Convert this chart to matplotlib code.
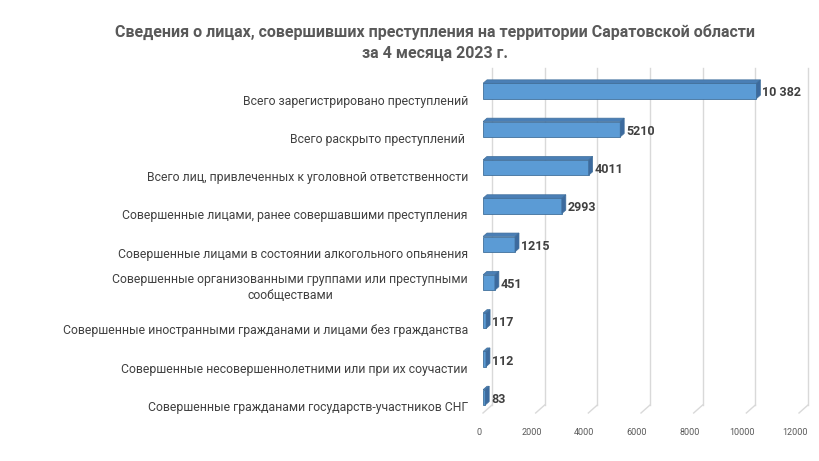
import matplotlib
matplotlib.use("Agg")
import matplotlib.pyplot as plt
import matplotlib.transforms as mtransforms
from matplotlib.patches import Polygon

categories = [
    "Всего зарегистрировано преступлений",
    "Всего раскрыто преступлений ",
    "Всего лиц, привлеченных к уголовной ответственности",
    "Совершенные лицами, ранее совершавшими преступления",
    "Совершенные лицами в состоянии алкогольного опьянения",
    "Совершенные организованными группами или преступными\nсообществами",
    "Совершенные иностранными гражданами и лицами без гражданства",
    "Совершенные несовершеннолетними или при их соучастии",
    "Совершенные гражданами государств-участников СНГ",
]
values = [10382, 5210, 4011, 2993, 1215, 451, 117, 112, 83]
xticks = [0, 2000, 4000, 6000, 8000, 10000, 12000]
title = "Сведения о лицах, совершивших преступления на территории Саратовской области\nза 4 месяца 2023 г."

FONT = ["Roboto", "DejaVu Sans"]
plt.rcParams["font.family"] = FONT

W, H, DPI = 820, 461, 100
fig = plt.figure(figsize=(W / DPI, H / DPI), dpi=DPI)
fig.patch.set_facecolor("white")

# axes placement (pixels)
x0p, x1p = 483, 799
ytop, ybot = 65, 415
ax = fig.add_axes([x0p / W, 1 - ybot / H, (x1p - x0p) / W, (ybot - ytop) / H])
ax.set_xlim(0, 12000)
n = len(categories)
row0, rowstep = 91, 38.3
ax.set_ylim((ybot - row0) / rowstep, (ytop - row0) / rowstep)

px_per_unit_x = (x1p - x0p) / 12000.0
px_per_unit_y = rowstep

# back-plane gridlines shifted right, with floor diagonals
grid_color = "#d9d9d9"
blend = mtransforms.blended_transform_factory(ax.transData, ax.transAxes)
back = blend + mtransforms.ScaledTranslation(9 / DPI, 0, fig.dpi_scale_trans)
yb_axes = (ybot - 405) / (ybot - ytop)
yt_axes = (ybot - 68) / (ybot - ytop)
for t in xticks:
    ax.plot([t, t], [yb_axes, yt_axes], color=grid_color, lw=1.0, transform=back,
            clip_on=False, zorder=0)
fig.canvas.draw()
for t in xticks:
    xp = ax.transData.transform((t, 0))[0]
    fig.add_artist(plt.Line2D([(xp + 9) / W, xp / W], [1 - 405 / H, 1 - 413 / H],
                              color=grid_color, lw=1.0, transform=fig.transFigure, zorder=0))

# 3D bars
bar_h = 0.40
depth_x = 4 / px_per_unit_x
depth_y = 3.5 / px_per_unit_y
front_c = "#5b9bd5"
top_c = "#4a7fb6"
side_c = "#3c6a9e"
edge_c = "#41709c"
for i, v in enumerate(values):
    yc = i
    ytop_b = yc - bar_h / 2
    ybot_b = yc + bar_h / 2
    ax.barh(yc, v, height=bar_h, color=front_c, edgecolor=edge_c, linewidth=0.6, zorder=3)
    top = Polygon([(0, ytop_b), (v, ytop_b), (v + depth_x, ytop_b - depth_y),
                   (depth_x, ytop_b - depth_y)], closed=True, facecolor=top_c,
                  edgecolor=edge_c, linewidth=0.5, zorder=3)
    side = Polygon([(v, ytop_b), (v + depth_x, ytop_b - depth_y),
                    (v + depth_x, ybot_b - depth_y), (v, ybot_b)], closed=True,
                   facecolor=side_c, edgecolor=edge_c, linewidth=0.5, zorder=3)
    ax.add_patch(top)
    ax.add_patch(side)
    lab = f"{v:,}".replace(",", " ") if v >= 10000 else str(v)
    ax.text(v + depth_x + 2 / px_per_unit_x, yc + 0.05, lab, ha="left", va="center",
            fontsize=9, fontweight="bold", color="#404040", zorder=4)

# category labels (sit slightly below their bars, as in the 3D original)
for i, c in enumerate(categories):
    nlines = c.count("\n") + 1
    off_px = 10 - 5 * (nlines - 1)
    ax.text(-15 / px_per_unit_x, i + off_px / px_per_unit_y, c, ha="right", va="center",
            multialignment="center", fontsize=8.8, color="#404040", linespacing=1.3)

ax.set_yticks([])
ax.set_xticks(xticks)
ax.set_xticklabels([str(t) for t in xticks], fontsize=6.5, color="#595959")
ax.tick_params(axis="x", length=0, pad=9)
for lbl in ax.get_xticklabels():
    lbl.set_transform(lbl.get_transform() + mtransforms.ScaledTranslation(-4 / DPI, 0, fig.dpi_scale_trans))
for s in ax.spines.values():
    s.set_visible(False)
ax.patch.set_alpha(0)

fig.text(435 / W, 1 - 42 / H, title, ha="center", va="center", fontsize=11.5,
         fontweight="bold", color="#595959", linespacing=1.5)

fig.savefig("out.png", dpi=DPI)
